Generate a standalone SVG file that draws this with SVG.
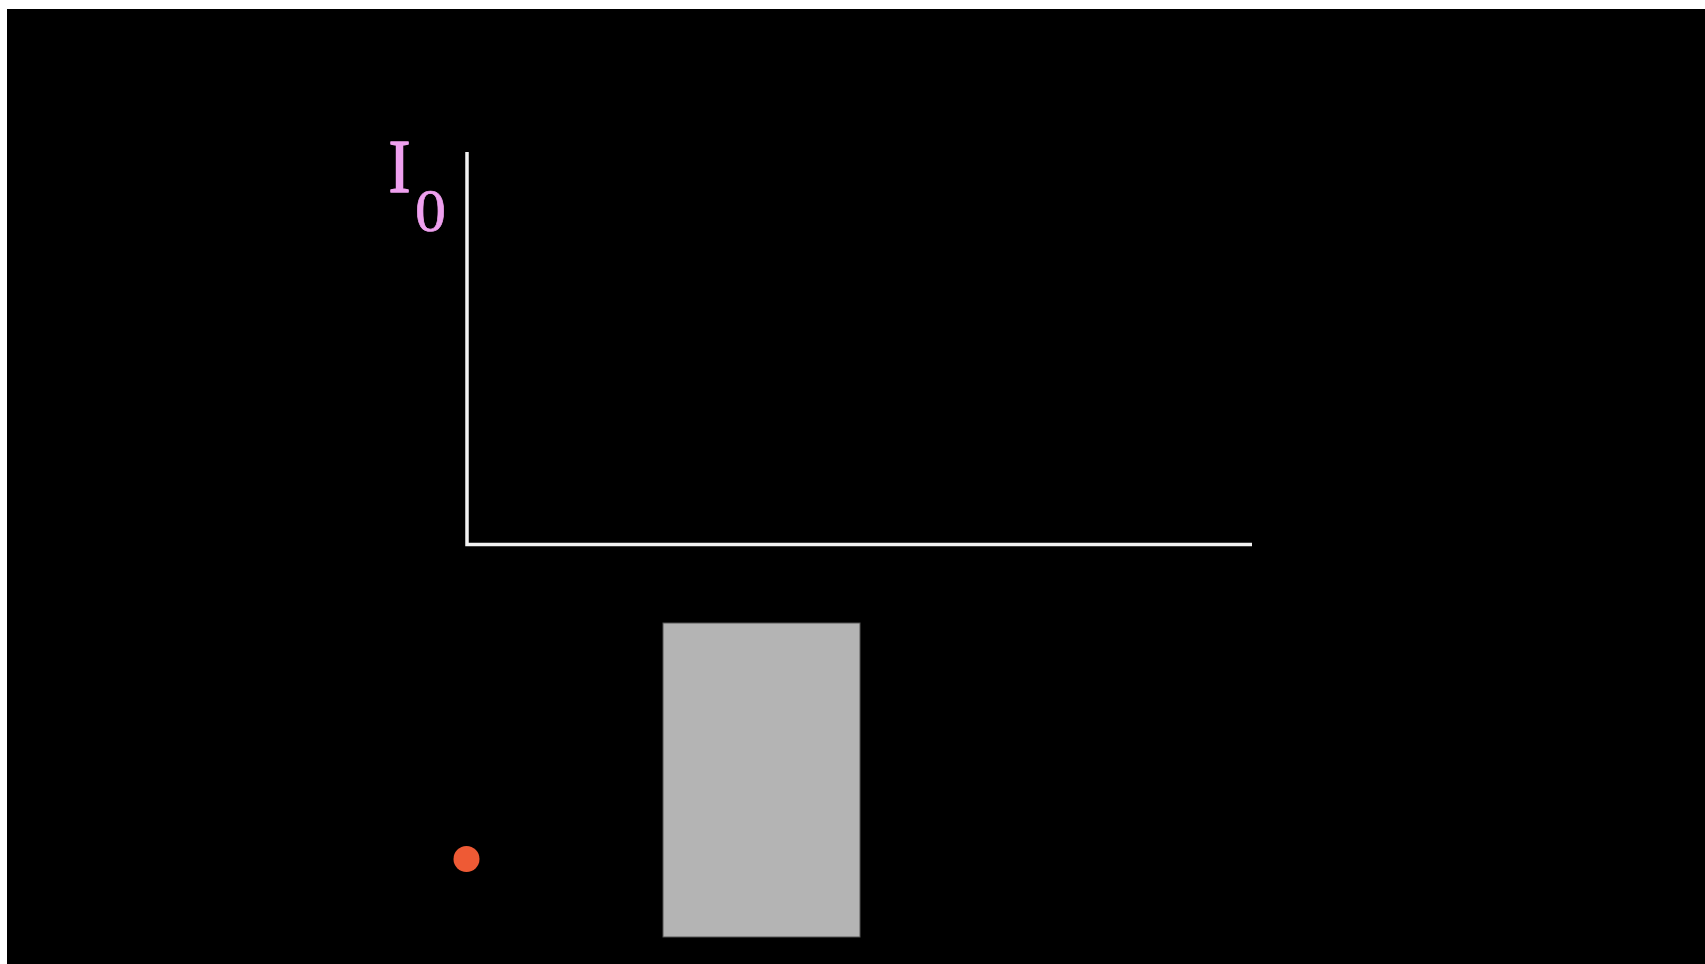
<svg xmlns="http://www.w3.org/2000/svg" width="1705" height="964" viewBox="0 0 1705 964">
<style>
.axis{stroke:#F2F2F2;stroke-width:3.5;fill:none}
.lbl{font-family:"Liberation Serif",serif;fill:#EFA0EF;stroke:#EFA0EF;stroke-linejoin:round}
</style>
<rect x="0" y="0" width="1705" height="964" fill="#FFFFFF"/>
<rect x="7" y="9" width="1698" height="955" fill="#000000"/>
<g id="axes">
<polyline class="axis" points="467,152 467,544.5 1252,544.5"/>
</g>
<g id="label">
<text class="lbl" x="388.5" y="191.5" font-size="76" stroke-width="1.4" textLength="22" lengthAdjust="spacingAndGlyphs">I</text>
<text class="lbl" x="415" y="230.5" font-size="62" stroke-width="0.7">0</text>
</g>
<g id="block">
<rect x="663" y="623" width="197" height="314" fill="#B4B4B4" stroke="#555555" stroke-width="1"/>
</g>
<g id="dot">
<circle cx="466.5" cy="859" r="13" fill="#EE5A35"/>
</g>
</svg>
